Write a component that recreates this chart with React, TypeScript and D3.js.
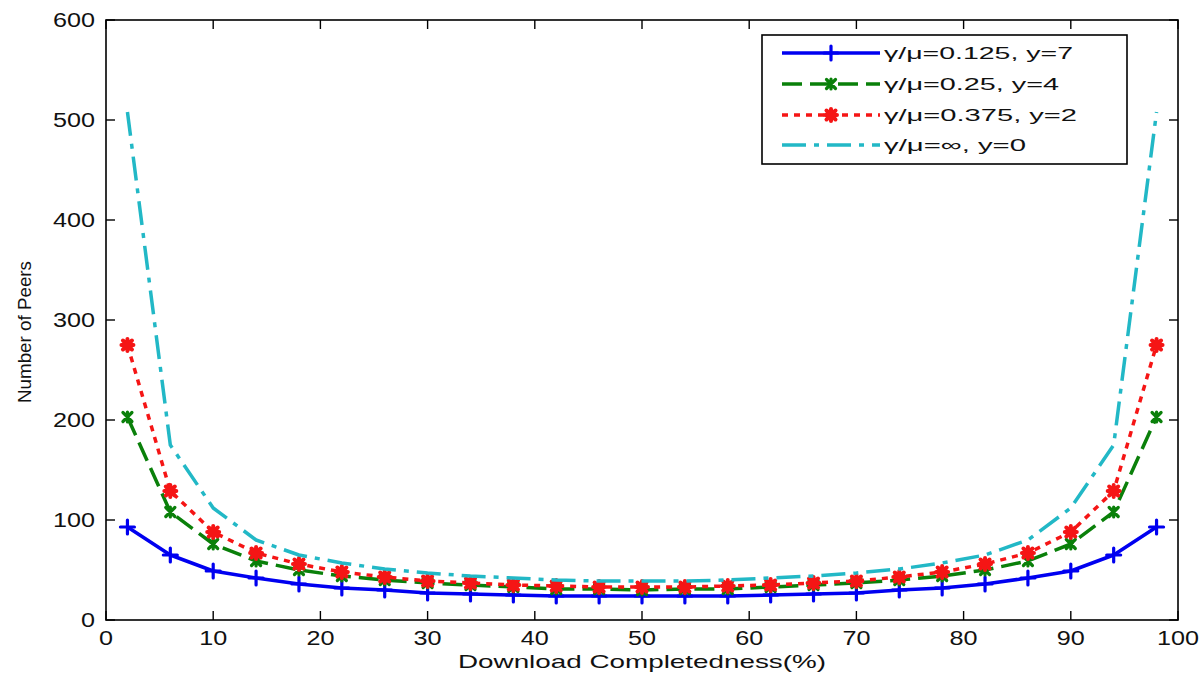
import React from "react";
import * as d3 from "d3";

const xs = [2, 6, 10, 14, 18, 22, 26, 30, 34, 38, 42, 46, 50, 54, 58, 62, 66, 70, 74, 78, 82, 86, 90, 94, 98];
const blueVals = [93, 65, 49, 42, 36, 32, 30, 27, 26, 25, 24, 24, 24, 24, 24, 25, 26, 27, 30, 32, 36, 42, 49, 65, 93];
const greenVals = [203, 108, 76, 59, 50, 44, 40, 37, 35, 33, 31, 31, 30, 31, 31, 33, 35, 37, 40, 44, 50, 59, 76, 108, 203];
const redVals = [275, 129, 88, 67, 56, 48, 43, 39, 37, 35, 34, 33, 33, 33, 34, 35, 37, 39, 43, 48, 56, 67, 88, 129, 275];
const cyanVals = [508, 175, 112, 80, 65, 57, 51, 47, 44, 42, 40, 39, 39, 39, 40, 42, 44, 47, 51, 57, 65, 80, 112, 175, 508];
const seriesNames = ["γ/μ=0.125, y=7", "γ/μ=0.25, y=4", "γ/μ=0.375, y=2", "γ/μ=∞, y=0"];
const xTicks = [0, 10, 20, 30, 40, 50, 60, 70, 80, 90, 100];
const yTicks = [0, 100, 200, 300, 400, 500, 600];
const xLabel = "Download Completedness(%)";
const yLabel = "Number of Peers";

const W = 1204, H = 678;
const L = 106, R = 1178, T = 20, B = 620;
const FONT = "'Liberation Sans', Arial, sans-serif";

type Style = { color: string; dash: string | null; marker: string | null; width: number; legendLen: number };
const styles: Style[] = [
  { color: "#0000f0", dash: null, marker: "plus", width: 3.5, legendLen: 189 },
  { color: "#0a800a", dash: "20,8", marker: "x", width: 3.5, legendLen: 175 },
  { color: "#f51515", dash: "6,6", marker: "star", width: 3.5, legendLen: 193 },
  { color: "#22b8c6", dash: "24,8,5,8", marker: null, width: 3.5, legendLen: 142 },
];
const allVals = [blueVals, greenVals, redVals, cyanVals];

function markerPath(kind: string | null): string {
  if (kind === "plus") return "M-7,0H7M0,-7V7";
  if (kind === "x") return "M-4.5,-4.5L4.5,4.5M-4.5,4.5L4.5,-4.5M0,-5V5";
  if (kind === "star") return "M-6,0H6M0,-6V6M-4.5,-4.5L4.5,4.5M-4.5,4.5L4.5,-4.5";
  return "";
}
function markerWidth(kind: string | null): number {
  if (kind === "star") return 4;
  return 3.2;
}

export default function App() {
  const x = d3.scaleLinear().domain([0, 100]).range([L, R]);
  const y = d3.scaleLinear().domain([0, 600]).range([B, T]);
  const line = d3.line<number>().x((_, i) => x(xs[i])).y((v) => y(v));

  const legendRows = [53, 84, 115, 145];

  return (
    <svg width={W} height={H} style={{ position: "absolute", left: 0, top: 0, background: "#fff" }} fontFamily={FONT}>
      <rect x={0} y={0} width={W} height={H} fill="#fff" />
      <defs>
        <clipPath id="plotclip">
          <rect x={L} y={T} width={R - L} height={B - T} />
        </clipPath>
      </defs>
      <g clipPath="url(#plotclip)">
        {allVals.map((vals, si) => {
          const s = styles[si];
          return (
            <g key={si}>
              <path d={line(vals) || ""} fill="none" stroke={s.color} strokeWidth={s.width}
                strokeDasharray={s.dash || undefined} strokeLinejoin="round" />
              {s.marker && vals.map((v, i) => (
                <path key={i} d={markerPath(s.marker)} transform={`translate(${x(xs[i])},${y(v)})`}
                  stroke={s.color} strokeWidth={markerWidth(s.marker)} fill="none" strokeLinecap="round" />
              ))}
            </g>
          );
        })}
      </g>
      <rect x={L} y={T} width={R - L} height={B - T} fill="none" stroke="#000" strokeWidth={1.6} />
      {xTicks.map((t) => (
        <g key={"xt" + t}>
          <line x1={x(t)} x2={x(t)} y1={B} y2={B - 9} stroke="#000" strokeWidth={1.4} />
          <line x1={x(t)} x2={x(t)} y1={T} y2={T + 9} stroke="#000" strokeWidth={1.4} />
          <text x={x(t)} y={645} fontSize={20} textAnchor="middle" fill="#111"
            textLength={String(t).length * 14} lengthAdjust="spacingAndGlyphs">{t}</text>
        </g>
      ))}
      {yTicks.map((t) => (
        <g key={"yt" + t}>
          <line x1={L} x2={L + 9} y1={y(t)} y2={y(t)} stroke="#000" strokeWidth={1.4} />
          <line x1={R} x2={R - 9} y1={y(t)} y2={y(t)} stroke="#000" strokeWidth={1.4} />
          <text x={95} y={y(t) + 7} fontSize={20} textAnchor="end" fill="#111"
            textLength={String(t).length * 14} lengthAdjust="spacingAndGlyphs">{t}</text>
        </g>
      ))}
      <text x={(L + R) / 2} y={668} fontSize={19} textAnchor="middle" fill="#111"
        textLength={368} lengthAdjust="spacingAndGlyphs">{xLabel}</text>
      <text transform={`translate(31,${(T + B) / 2 + 12}) rotate(-90)`} fontSize={19} textAnchor="middle" fill="#111"
        textLength={142} lengthAdjust="spacingAndGlyphs">{yLabel}</text>
      <rect x={762} y={35} width={365} height={129} fill="#fff" stroke="#000" strokeWidth={1.6} />
      {styles.map((s, i) => (
        <g key={"lg" + i}>
          <line x1={782} x2={880} y1={legendRows[i]} y2={legendRows[i]} stroke={s.color} strokeWidth={s.width}
            strokeDasharray={s.dash || undefined} />
          {s.marker && (
            <path d={markerPath(s.marker)} transform={`translate(831,${legendRows[i]})`} stroke={s.color}
              strokeWidth={markerWidth(s.marker)} fill="none" strokeLinecap="round" />
          )}
          <text x={884} y={legendRows[i] + 6} fontSize={17} fill="#111"
            textLength={s.legendLen} lengthAdjust="spacingAndGlyphs">{seriesNames[i]}</text>
        </g>
      ))}
    </svg>
  );
}
